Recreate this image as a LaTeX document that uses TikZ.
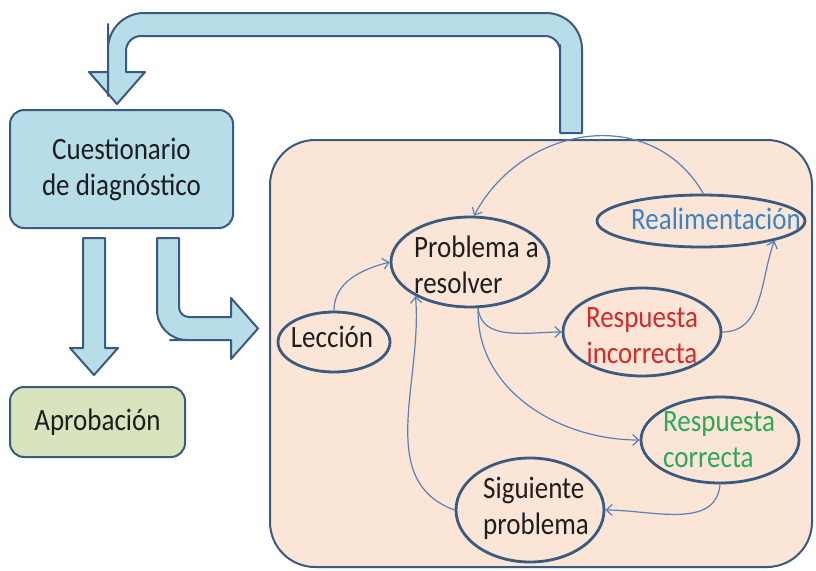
\documentclass[tikz,border=0pt]{standalone}
\usepackage{fontspec}
\setmainfont{Carlito}
\usetikzlibrary{shapes.geometric,arrows.meta}
\definecolor{edgeblue}{HTML}{3A5A80}
\definecolor{skyfill}{HTML}{B7DDE8}
\definecolor{sagefill}{HTML}{D7E4BD}
\definecolor{peach}{HTML}{FBE5D6}
\definecolor{linkblue}{HTML}{5B80B5}
\definecolor{fbblue}{HTML}{3C83C4}
\definecolor{wrongred}{HTML}{D42A2A}
\definecolor{rightgreen}{HTML}{2BAA55}
\definecolor{ink}{HTML}{1E1E1E}
\newcommand{\tall}[1]{\scalebox{1}[1.15]{#1}}
\begin{document}
\begin{tikzpicture}[x=1pt,y=-1pt,
  box/.style={draw=edgeblue,line width=2pt,rounded corners=14pt,inner sep=0pt},
  ell/.style={ellipse,draw=edgeblue,line width=2.8pt,inner sep=0pt},
  txt/.style={font=\fontsize{27}{36}\selectfont,text=ink,inner sep=0pt},
  fat/.style={draw=edgeblue,line width=2pt,fill=skyfill,line join=round},
  link/.style={draw=linkblue,line width=1.2pt,-{Straight Barb[length=6pt,width=11pt]}}]
  \useasboundingbox (0,0) rectangle (816,570);
  \node[box,fill=skyfill,minimum width=223pt,minimum height=118pt] (quiz) at (121.5,169) {};
  \node[box,fill=sagefill,minimum width=175pt,minimum height=70pt] (pass) at (97.5,422) {};
  \node[box,fill=peach,rounded corners=45pt,minimum width=542pt,minimum height=427pt] (area) at (541,353.5) {};
  \node[txt,align=center] (quiz-t) at (quiz) {\tall{Cuestionario}\\\tall{de diagnóstico}};
  \node[txt] (pass-t) at (pass) {\tall{Aprobación}};

  \draw[fat] (582,133) [rounded corners=36pt] -- (582,13) -- (108,13) -- (108,60) [sharp corners] -- (108,72) -- (89,72) -- (117,104) -- (145,72) -- (126,72) -- (126,60) [rounded corners=15pt] -- (126,36) -- (560,36) -- (560,60) [sharp corners] -- (560,133) -- cycle;
  \draw[fat] (83,238) -- (83,348) -- (70,348) -- (94,375) -- (118,348) -- (105,348) -- (105,238) -- cycle;
  \draw[fat] (157,238) [rounded corners=30pt] -- (157,340) -- (200,340) [sharp corners] -- (231,340) -- (231,359) -- (258,328.5) -- (231,298) -- (231,317) -- (200,317) [rounded corners=10pt] -- (179,317) -- (179,290) [sharp corners] -- (179,238) -- cycle;

  \node[ell,minimum width=158pt,minimum height=90pt] (problem) at (470,262) {};
  \node[ell,minimum width=208pt,minimum height=52pt] (feedback) at (701,221) {};
  \node[ell,minimum width=112pt,minimum height=60pt] (lesson) at (334,342) {};
  \node[ell,minimum width=158pt,minimum height=88pt] (wrong) at (642,332) {};
  \node[ell,minimum width=158pt,minimum height=86pt] (right) at (720,440) {};
  \node[ell,minimum width=148pt,minimum height=104pt] (nextprob) at (530,510) {};

  \node[txt,align=left,anchor=west] (problem-t) at (414,265) {\tall{Problema a}\\\tall{resolver}};
  \node[txt,text=fbblue] (feedback-t) at (716,219) {\tall{Realimentación}};
  \node[txt] (lesson-t) at (332,337) {\tall{Lección}};
  \node[txt,text=wrongred,align=center] (wrong-t) at (642,336) {\tall{Respuesta}\\\tall{incorrecta}};
  \node[txt,text=rightgreen,align=left,anchor=west] (right-t) at (663,440) {\tall{Respuesta}\\\tall{correcta}};
  \node[txt,align=left,anchor=west] (nextprob-t) at (483,508) {\tall{Siguiente}\\\tall{problema}};

  \draw[link] (lesson.north) to[out=90,in=195] (problem.west);
  \draw[link] (problem.-80) to[out=-85,in=180] (wrong.west);
  \draw[link] (problem.-80) to[out=-92,in=180] (right.west);
  \draw[link] (wrong.east) to[out=0,in=-110] (feedback.-15);
  \draw[link] (feedback.85) to[out=120,in=62,looseness=1.15] (problem.85);
  \draw[link] (right.south) to[out=-95,in=0] (nextprob.east);
  \draw[link] (nextprob.west) to[out=160,in=-85] (problem.212);
\end{tikzpicture}
\end{document}
